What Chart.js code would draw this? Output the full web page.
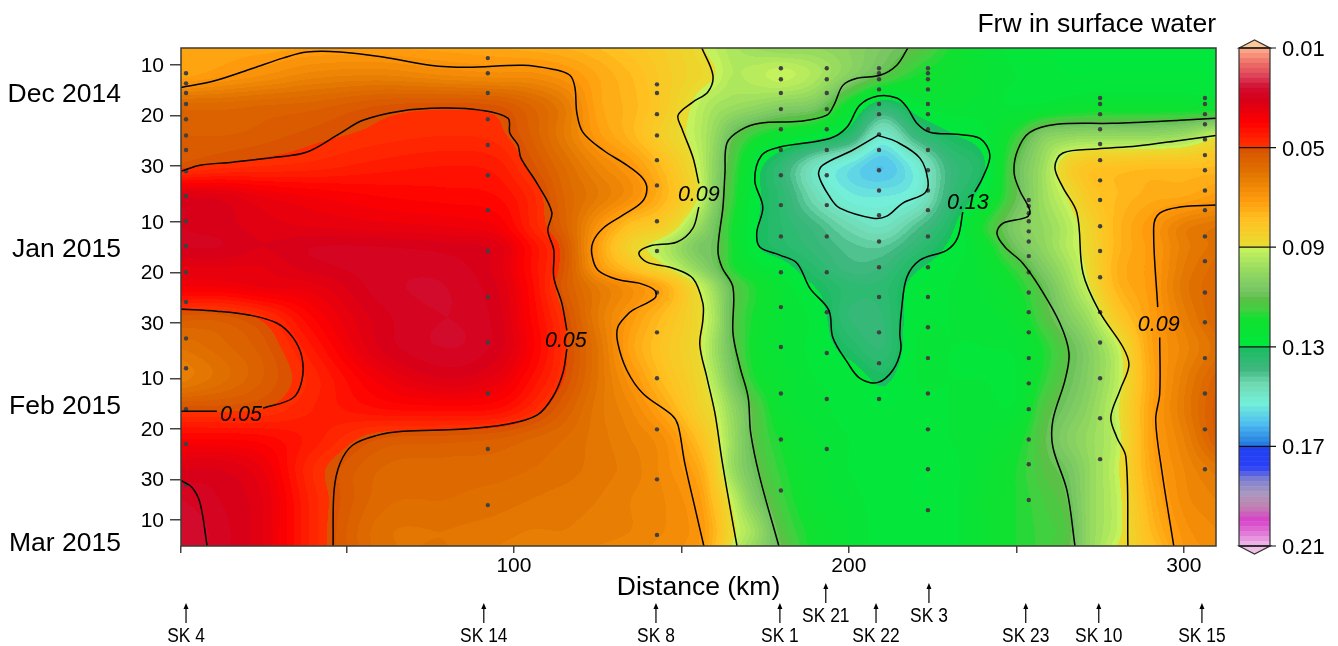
<!DOCTYPE html>
<html>
<head>
<meta charset="utf-8">
<style>
  html, body { margin: 0; background: #fff; }
  canvas { display: block; }
</style>
<script src="https://cdn.jsdelivr.net/npm/chart.js@4/dist/chart.umd.min.js"></script>
</head>
<body>
<canvas id="frwChart" width="1338" height="646"></canvas>
<script>
// axes
const xTicks = [0.6, 50, 100, 150, 200, 250, 300];
const xTickLabels = ['', '', '100', '', '200', '', '300'];
const yTicks = [10, 20, 30, 41, 51, 61, 72, 82, 92, 100]; // days since 30 Nov
const yTickLabels = ['10', '20', '30', '10', '20', '30', '10', '20', '30', '10'];
const months = ['Dec 2014', 'Jan 2015', 'Feb 2015', 'Mar 2015'];
const monthDays = [15.8, 46.5, 77.6, 104.8];
const barTicks = [0.01, 0.05, 0.09, 0.13, 0.17, 0.21];

// stations
const stations = ['SK 4', 'SK 14', 'SK 8', 'SK 1', 'SK 21', 'SK 22', 'SK 3', 'SK 23', 'SK 10', 'SK 15'];
const stationKm = [2.1, 91, 142.4, 179.4, 193.1, 208.1, 223.9, 252.8, 274.6, 305.4];
const stationRaised = [0, 0, 0, 0, 1, 0, 1, 0, 0, 0];

// sampling dots, one list of days per station
const sampleKm = [2.1, 92.2, 142.7, 179.7, 193.4, 209, 223.6, 253.7, 275, 306.3];
const sampleDays = [
  [11.6,13.6,15.5,17.7,20.7,23.9,26.8,31,35.9,40.9,45.8,51,56.9,64.1,70,78.1,85,93],
  [8.6,11.6,15.5,20.7,25.8,31.8,38.7,46.8,55.9,64.9,75,86,97.1],
  [13.8,15.5,19.7,23.9,28.8,33.8,40.9,46.8,55,62.9,72,82.1,92,103],
  [10.6,12.8,15.5,18.7,22.7,26.8,31.8,37.7,43.9,51,57.9,65.8,75,84.1,94.2],
  [10.6,12.8,15.5,18.7,22.7,26.8,31.8,37.7,43.9,51,58.9,67,76.1,86],
  [10.6,11.6,12.8,14.8,17.7,19.7,23.7,26.8,30.8,34.8,39.7,44.9,50,55.9,62.9,69,76.1],
  [10.6,11.6,12.8,14.8,17.7,19.7,22.7,26.8,30.8,34.8,38.7,43.9,50,55.9,61.9,68,75,82.1,90,98.1],
  [36.7,37.9,39.3,40.9,42.9,44.9,47.8,51,55,58.9,62.9,68,73,78.1,84.1,89,96.1],
  [16.5,17.7,19.7,22.7,25.6,28.8,32.8,36.7,41.9,46.8,52,58.9,64.9,72,79.9,88],
  [16.5,17.7,19.7,21.7,24.7,27.8,30.8,34.8,38.7,43.9,48.8,55,60.9,68,75,82.1,90]
];

// Frw: one row per day, one value per km
const gridKm = [0.6,12,25,40,60,80,95,105,115,125,135,145,155,160,165,172,180,190,200,210,220,230,240,250,258,265,272,280,290,300,309.6];
const gridDays = [6.6,12,18,24,30,36,42,46,50,54,60,66,72,78,84,90,96,102,105.2];
const frw = [
  [.072,.073,.073,.072,.072,.073,.074,.075,.076,.078,.081,.084,.089,.092,.095,.098,.100,.100,.102,.106,.111,.118,.124,.127,.128,.128,.128,.128,.128,.128,.128],
  [.073,.0705,.068,.065,.064,.066,.067,.067,.0695,.074,.078,.083,.0875,.09,.094,.093,.091,.095,.103,.111,.118,.121,.124,.126,.127,.128,.128,.128,.128,.128,.128],
  [.057,.057,.056,.055,.052,.051,.052,.056,.062,.073,.077,.083,.092,.096,.098,.10,.103,.106,.121,.134,.127,.124,.125,.126,.125,.123,.122,.122,.122,.122,.122],
  [.054,.054,.053,.051,.049,.048,.049,.054,.062,.071,.077,.085,.093,.10,.109,.117,.122,.127,.134,.150,.138,.131,.127,.116,.104,.101,.10,.10,.10,.098,.091],
  [.051,.049,.048,.047,.045,.044,.045,.051,.058,.065,.0705,.079,.091,.102,.113,.127,.136,.148,.155,.160,.152,.138,.131,.11,.098,.086,.081,.08,.079,.079,.078],
  [.032,.033,.036,.038,.040,.041,.042,.047,.056,.062,.068,.077,.090,.103,.115,.128,.135,.146,.153,.154,.151,.137,.127,.110,.098,.09,.082,.078,.075,.074,.071],
  [.03,.031,.033,.034,.035,.036,.038,.046,.055,.069,.08,.085,.099,.108,.118,.129,.134,.139,.145,.148,.141,.132,.118,.105,.10,.094,.086,.077,.0705,.063,.06],
  [.03,.03,.032,.03,.03,.031,.033,.042,.052,.072,.086,.094,.106,.109,.118,.129,.133,.137,.141,.142,.136,.129,.122,.108,.101,.094,.087,.077,.071,.063,.059],
  [.034,.034,.034,.031,.029,.029,.033,.042,.052,.07,.08,.089,.101,.108,.117,.124,.128,.134,.139,.138,.131,.127,.123,.115,.105,.097,.088,.076,.071,.062,.057],
  [.038,.038,.036,.035,.029,.028,.032,.041,.053,.062,.068,.075,.09,.099,.11,.118,.124,.130,.135,.135,.128,.126,.124,.119,.11,.10,.09,.077,.071,.061,.056],
  [.053,.053,.049,.04,.031,.028,.031,.040,.05,.062,.071,.079,.088,.096,.11,.119,.124,.127,.136,.136,.127,.126,.125,.122,.113,.105,.097,.083,.072,.063,.056],
  [.060,.057,.053,.044,.032,.028,.031,.039,.049,.06,.073,.081,.0885,.098,.109,.12,.124,.127,.132,.136,.126,.126,.126,.125,.118,.111,.103,.092,.073,.065,.059],
  [.063,.059,.054,.047,.037,.032,.035,.042,.05,.06,.0695,.079,.087,.095,.106,.118,.123,.126,.127,.131,.126,.126,.126,.126,.117,.11,.103,.093,.074,.063,.055],
  [.051,.051,.05,.046,.042,.041,.042,.047,.054,.061,.066,.074,.085,.09,.10,.112,.122,.125,.127,.128,.127,.126,.125,.125,.113,.107,.101,.091,.073,.062,.053],
  [.04,.04,.041,.045,.052,.053,.054,.056,.058,.061,.064,.068,.079,.087,.098,.111,.119,.124,.126,.127,.127,.126,.124,.12,.111,.104,.099,.092,.073,.064,.054],
  [.032,.032,.036,.048,.056,.057,.057,.058,.059,.061,.063,.067,.074,.084,.098,.109,.117,.123,.126,.127,.128,.127,.123,.118,.112,.108,.10,.091,.074,.066,.061],
  [.028,.03,.034,.047,.057,.058,.059,.060,.061,.062,.064,.066,.071,.08,.091,.105,.115,.122,.125,.127,.128,.127,.122,.118,.114,.11,.10,.092,.076,.067,.064],
  [.026,.029,.034,.047,.059,.06,.061,.062,.062,.063,.064,.066,.0695,.077,.088,.098,.112,.12,.124,.127,.128,.127,.122,.118,.115,.112,.10,.092,.078,.069,.066],
  [.026,.029,.034,.047,.059,.06,.062,.063,.063,.064,.065,.067,.07,.078,.09,.10,.11,.12,.124,.127,.128,.127,.122,.118,.115,.111,.10,.09,.08,.07,.067]
];

// contour lines as [km, day]
const line07Left = [[.6,14.4],[10.1,13.2],[22.1,10.6],[31,8.6],[38.2,7.4],[48.1,7.4],[60.9,8.4],[74.9,10],[86,10.4],[102.7,10],[111.6,10.8],[116.7,12],[118.2,14.4],[118.8,19.5],[120.6,23.3],[126.6,26.8],[133.7,29.8],[138.2,32.2],[139.7,34.4],[138.2,37.1],[132.5,39.7],[126.6,42.3],[123.6,45],[123.3,47.6],[125.1,50.6],[130.7,52.4],[137.6,53.2],[142.1,54.6],[142.1,56.1],[135.5,58.5],[133.7,59.5],[131,61.9],[131,65],[133.7,70.4],[138.5,75],[147.2,79.3],[149,81.3],[151,88.8],[154,97.5],[156.7,105.2]];
const line05TopA = [[.6,31],[6.3,29.8],[16.1,29.2],[29.3,28.2],[38.2,27.2],[48.1,23.5],[54.9,20.9],[66,19.1],[78.8,18.5],[89.9,18.9],[98.2,20.5],[98.8,23.5],[101.2,25.8],[102.1,28.4],[106.9,33.4],[111.3,39.1],[110.1,42.7],[111.9,46.6],[111.9,52],[114.3,57.1],[115.8,62.5]];
const line05TopB = [[115.8,66.2],[114.6,71],[111.6,75.7],[106.9,79.3],[97.9,81.1],[83.9,82.1],[66.9,82.5],[59.1,83.3],[51.9,85.2],[48.1,88.8],[46.3,94.2],[46,105.2]];
const line05BoxA = [[.6,58.3],[11.3,58.7],[21.2,59.5],[29.3,61.1],[34,63.9],[36.7,67.8],[36.7,72.4],[34,75.9],[25.1,77.9]];
const line05BoxB = [[11.3,78.5],[.6,78.5]];
const line03Corner = [[.6,92.2],[3.9,93.6],[6.3,96.7],[8.4,105.2]];
const line09LeftA = [[156.1,6.6],[159.4,12],[157.9,15.3],[153.4,17.3],[149,19.9],[150.1,22.5],[153.4,28.2],[155.2,33.4]];
const line09LeftB = [[155.2,38.1],[153.4,42.3],[148.7,45],[140.6,45.8],[137.3,47.2],[139.7,49],[147.5,50.2],[153.4,52.2],[156.4,57.1],[156.4,60.5],[155.5,65.4],[157.6,71.8],[160,78.9],[162.1,88.2],[164.5,97.5],[166.6,105.2]];
const line11Left = [[217.6,6.6],[214.3,10],[209.3,12],[202.4,12.6],[198.2,14],[195.8,17.5],[193.4,19.9],[185.4,21.1],[173.4,21.5],[167.5,22.9],[163.6,25.4],[163,31.4],[162.4,38.1],[160.9,46.6],[162.1,50],[165.4,54],[165.4,63.1],[167.5,69.8],[169.9,75.7],[170.7,82.9],[173.4,91.6],[179.1,105.2]];
const line13Blob = [[234,39.1],[232.5,44.1],[229.3,46.6],[221.2,48.6],[217.3,52],[215.8,57.9],[215.2,63.1],[215.5,66.4],[213.1,70.4],[208.7,72.8],[203.3,72],[199.7,69],[195.2,63.9],[194,58.5],[188.4,54.2],[184.5,49.2],[179.4,47.6],[173.4,46],[172.5,43.1],[174.3,38.1],[171.9,32.8],[174,27.8],[179.4,26.2],[194.3,24.5],[199.4,22.3],[203.3,17.9],[208.7,16.1],[214.3,16.5],[217.3,18.3],[220.3,21.5],[224.2,23.3],[232.2,23.7],[239.1,24.5],[242.1,27.8],[240,32.2],[237.6,35.1]];
const line15Blob = [[208.7,23.9],[214.3,25.2],[221.2,28.4],[223.6,32.8],[222.7,35.3],[216.1,37.3],[211.3,39.9],[207.2,40.3],[197.3,38.3],[194.3,36.1],[191,31.8],[192.2,29.8],[201.2,26.8],[208.7,23.9]];
const line11Right = [[309.6,20.5],[298.8,20.9],[278.8,21.5],[262.1,21.7],[254,23.3],[250.4,26.8],[249.3,31.2],[251,34.8],[254,38.7],[253.1,40.1],[246,41.3],[244.2,43.3],[246.6,46],[251.9,49.2],[257,54],[263,61.1],[265.7,67],[264.5,72.4],[260.9,80.3],[260.9,85.6],[265.1,94.2],[267.5,105.2]];
const line09Right = [[309.6,23.9],[298.8,24.9],[286,26],[274,26.6],[263.9,27.4],[261.5,30.2],[263.9,34.2],[268.1,39.3],[269.9,51.2],[274.9,58.9],[281.8,65.8],[283.6,69.4],[280.9,74.4],[278.2,79.7],[280,83.7],[282.7,87.6],[283.3,105.2]];
const line07RightA = [[309.6,37.7],[298.8,38.1],[292.8,39.3],[291,42.1],[292.2,57.9]];
const line07RightB = [[292.8,63.9],[292.8,75],[291.6,80.3],[293.4,90.2],[297,105.2]];
const contours = [line07Left, line05TopA, line05TopB, line05BoxA, line05BoxB, line03Corner, line09LeftA, line09LeftB, line11Left, line13Blob, line15Blob, line11Right, line09Right, line07RightA, line07RightB];

// labels sitting on the contour lines
const lineLabels = ['0.05', '0.05', '0.09', '0.13', '0.09'];
const lineLabelKm = [18.5, 115.5, 155.2, 235.5, 292.5];
const lineLabelDays = [79.2, 64.6, 35.8, 37.2, 61.4];

// colour ramp of the bar, [value, colour], jumps at the labelled levels
const ramp = [
  [.01,'#ffb08c'],[.016,'#ee7068'],[.0216,'#dd4058'],[.026,'#d00c30'],[.031,'#d80018'],[.035,'#e8000c'],[.04,'#ff0000'],[.0483,'#ff2c00'],[.0499,'#ff3000'],
  [.0501,'#d85000'],[.06,'#e07400'],[.071,'#ff9a0c'],[.079,'#ffc020'],[.0899,'#e8dc30'],
  [.0901,'#c8f45c'],[.1004,'#90d860'],[.108,'#74c464'],[.1112,'#58c044'],[.115,'#40d040'],[.119,'#10e030'],[.1299,'#00e83c'],
  [.1301,'#18bc60'],[.1393,'#40b880'],[.1445,'#70d8b0'],[.1526,'#74f0d8'],[.1606,'#50c0f0'],[.1699,'#2074e0'],
  [.1701,'#2040f0'],[.1783,'#2840f8'],[.1835,'#8080d0'],[.1887,'#a898c0'],[.1943,'#c080b0'],[.1996,'#d840c8'],[.2048,'#e078d8'],[.21,'#f0c0e8']
];
const bandWidth = 0.002;

const rampRgb = ramp.map(([v, c]) => [v, parseInt(c.slice(1, 3), 16), parseInt(c.slice(3, 5), 16), parseInt(c.slice(5, 7), 16)]);

function colourFor(v) {
  // the map is banded, so take the colour at the middle of the band
  let band = Math.floor((v - 0.01) / bandWidth + 1e-6);
  band = Math.max(0, Math.min(99, band));
  const mid = 0.01 + (band + 0.5) * bandWidth;
  for (let i = 0; i < rampRgb.length - 1; i++) {
    const a = rampRgb[i], b = rampRgb[i + 1];
    if (mid <= b[0]) {
      const t = Math.max(0, (mid - a[0]) / (b[0] - a[0]));
      return [a[1] + (b[1] - a[1]) * t, a[2] + (b[2] - a[2]) * t, a[3] + (b[3] - a[3]) * t];
    }
  }
  return rampRgb[rampRgb.length - 1].slice(1);
}

// smooth shading between two neighbouring grid values
function shade(xs, ys, x) {
  let i = 0;
  while (i < xs.length - 2 && x > xs[i + 1]) i++;
  const h = xs[i + 1] - xs[i];
  const t = Math.max(0, Math.min(1, (x - xs[i]) / h));
  const m0 = i > 0 ? (ys[i + 1] - ys[i - 1]) / (xs[i + 1] - xs[i - 1]) : (ys[i + 1] - ys[i]) / h;
  const m1 = i < xs.length - 2 ? (ys[i + 2] - ys[i]) / (xs[i + 2] - xs[i]) : (ys[i + 1] - ys[i]) / h;
  const t2 = t * t, t3 = t2 * t;
  return (2 * t3 - 3 * t2 + 1) * ys[i] + (t3 - 2 * t2 + t) * h * m0 + (-2 * t3 + 3 * t2) * ys[i + 1] + (t3 - t2) * h * m1;
}

const heatPlugin = {
  id: 'heat',
  beforeDatasetsDraw(chart) {
    const { ctx, chartArea, scales } = chart;
    const w = Math.round(chartArea.right - chartArea.left), h = Math.round(chartArea.bottom - chartArea.top);
    const off = document.createElement('canvas');
    off.width = w; off.height = h;
    const octx = off.getContext('2d');
    const img = octx.createImageData(w, h);
    for (let px = 0; px < w; px++) {
      const km = scales.x.getValueForPixel(chartArea.left + px + 0.5);
      const col = frw.map(row => shade(gridKm, row, km));
      for (let py = 0; py < h; py++) {
        const day = scales.y.getValueForPixel(chartArea.top + py + 0.5);
        const c = colourFor(shade(gridDays, col, day));
        const k = (py * w + px) * 4;
        img.data[k] = c[0]; img.data[k + 1] = c[1]; img.data[k + 2] = c[2]; img.data[k + 3] = 255;
      }
    }
    octx.putImageData(img, 0, 0);
    ctx.drawImage(off, chartArea.left, chartArea.top);
  }
};

const decorPlugin = {
  id: 'decor',
  afterDatasetsDraw(chart) {
    const { ctx, chartArea, scales } = chart;
    ctx.save();

    // frame
    ctx.strokeStyle = '#3c3c34';
    ctx.lineWidth = 1.5;
    ctx.strokeRect(chartArea.left, chartArea.top, chartArea.right - chartArea.left, chartArea.bottom - chartArea.top);

    // contour labels
    ctx.fillStyle = '#000';
    ctx.font = 'italic 21.5px "Liberation Sans"';
    ctx.textAlign = 'center';
    ctx.textBaseline = 'middle';
    lineLabels.forEach((t, i) => {
      ctx.fillText(t, scales.x.getPixelForValue(lineLabelKm[i]), scales.y.getPixelForValue(lineLabelDays[i]));
    });

    // month names
    ctx.font = '26.5px "Liberation Sans"';
    ctx.textAlign = 'right';
    months.forEach((t, i) => ctx.fillText(t, 121, scales.y.getPixelForValue(monthDays[i])));

    // title
    ctx.fillText('Frw in surface water', chartArea.right, 25);

    // station arrows
    ctx.font = '20px "Liberation Sans"';
    ctx.textAlign = 'center';
    ctx.strokeStyle = '#000';
    ctx.lineWidth = 1.2;
    stations.forEach((t, i) => {
      const x = scales.x.getPixelForValue(stationKm[i]);
      const top = stationRaised[i] ? 583 : 603;
      ctx.beginPath();
      ctx.moveTo(x, top + 20);
      ctx.lineTo(x, top + 3);
      ctx.stroke();
      ctx.beginPath();
      ctx.moveTo(x, top);
      ctx.lineTo(x - 2.5, top + 6);
      ctx.lineTo(x + 2.5, top + 6);
      ctx.closePath();
      ctx.fill();
      // the station names are set narrow
      ctx.save();
      ctx.translate(x, top + 33);
      ctx.scale(0.87, 1);
      ctx.fillText(t, 0, 0);
      ctx.restore();
    });

    // colour bar
    const bar = scales.bar;
    const left = chartArea.right + 23, right = chartArea.right + 54;
    for (let b = 0; b < 100; b++) {
      const v = 0.01 + b * bandWidth;
      const y0 = bar.getPixelForValue(v), y1 = bar.getPixelForValue(v + bandWidth);
      const c = colourFor(v + bandWidth / 2);
      ctx.fillStyle = `rgb(${c[0]},${c[1]},${c[2]})`;
      ctx.fillRect(left, y0, right - left, y1 - y0 + 0.5);
    }
    const yTop = bar.getPixelForValue(0.01), yBot = bar.getPixelForValue(0.21);
    ctx.strokeStyle = '#333';
    ctx.lineWidth = 1.2;
    ctx.beginPath();
    ctx.moveTo(left, yTop); ctx.lineTo((left + right) / 2, yTop - 8); ctx.lineTo(right, yTop); ctx.closePath();
    ctx.fillStyle = '#ffc898'; ctx.fill(); ctx.stroke();
    ctx.beginPath();
    ctx.moveTo(left, yBot); ctx.lineTo((left + right) / 2, yBot + 8); ctx.lineTo(right, yBot); ctx.closePath();
    ctx.fillStyle = '#f0c0e8'; ctx.fill(); ctx.stroke();
    ctx.strokeRect(left, yTop, right - left, yBot - yTop);
    ctx.strokeStyle = '#111';
    barTicks.forEach(v => {
      const y = bar.getPixelForValue(v);
      ctx.beginPath();
      ctx.moveTo(left, y);
      ctx.lineTo(right + 6, y);
      ctx.stroke();
    });

    ctx.restore();
  }
};

const lineSets = contours.map(pts => ({
  data: pts.map(p => ({ x: p[0], y: p[1] })),
  showLine: true,
  pointRadius: 0,
  borderColor: '#000',
  borderWidth: 1.5,
  tension: 0.35
}));
const dotSets = sampleDays.map((days, i) => ({
  data: days.map(d => ({ x: sampleKm[i], y: d })),
  showLine: false,
  pointRadius: 2.2,
  pointBorderWidth: 0,
  pointBackgroundColor: '#404040'
}));

new Chart(document.getElementById('frwChart'), {
  type: 'scatter',
  data: { datasets: lineSets.concat(dotSets) },
  plugins: [heatPlugin, decorPlugin],
  options: {
    responsive: false,
    animation: false,
    devicePixelRatio: 1,
    layout: { padding: { top: 48, left: 0, right: 0, bottom: 0 } },
    plugins: { legend: { display: false }, tooltip: { enabled: false } },
    scales: {
      x: {
        type: 'linear',
        min: 0.6,
        max: 309.6,
        afterBuildTicks: s => { s.ticks = xTicks.map(v => ({ value: v })); },
        afterFit: s => { s.height = 100; },
        grid: { drawOnChartArea: false, color: '#444', lineWidth: 1.5, tickLength: 7 },
        border: { display: false },
        ticks: {
          color: '#000',
          font: { size: 21, family: '"Liberation Sans"' },
          padding: 1,
          maxRotation: 0,
          autoSkip: false,
          callback: (v, i) => xTickLabels[i]
        },
        title: {
          display: true,
          text: 'Distance (km)',
          color: '#000',
          font: { size: 26.5, family: '"Liberation Sans"' },
          padding: { top: 0, bottom: 42 }
        }
      },
      y: {
        type: 'linear',
        reverse: true,
        min: 6.6,
        max: 105.2,
        afterBuildTicks: s => { s.ticks = yTicks.map(v => ({ value: v })); },
        afterFit: s => { s.width = 181; },
        grid: { drawOnChartArea: false, color: '#444', lineWidth: 1.5, tickLength: 11 },
        border: { display: false },
        ticks: {
          color: '#000',
          font: { size: 21, family: '"Liberation Sans"' },
          padding: 6,
          labelOffset: 1,
          autoSkip: false,
          callback: (v, i) => yTickLabels[i]
        }
      },
      bar: {
        type: 'linear',
        axis: 'y',
        position: 'right',
        reverse: true,
        min: 0.01,
        max: 0.21,
        afterBuildTicks: s => { s.ticks = barTicks.map(v => ({ value: v })); },
        // the wide tick padding must not push the plot area down
        afterFit: s => { s.width = 122; s.paddingTop = 0; s.paddingBottom = 0; },
        grid: { display: false, drawTicks: false },
        border: { display: false },
        ticks: {
          color: '#000',
          font: { size: 22, family: '"Liberation Sans"' },
          padding: 66,
          labelOffset: 2,
          autoSkip: false,
          callback: v => v.toFixed(2)
        }
      }
    }
  }
});
</script>
</body>
</html>
